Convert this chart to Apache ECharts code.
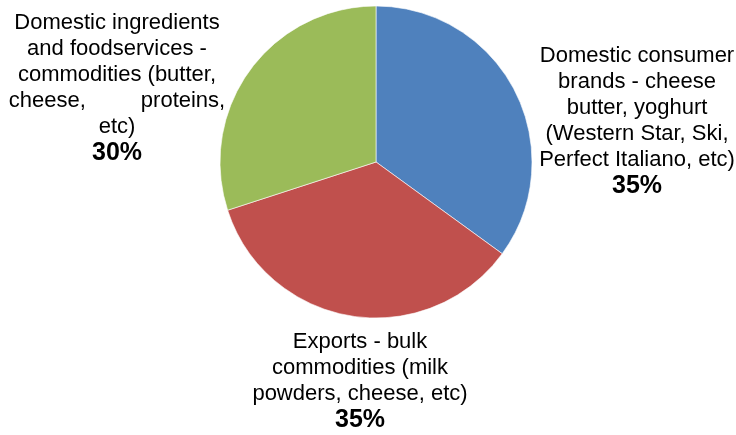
<!DOCTYPE html>
<html>
<head>
<meta charset="utf-8">
<script src="https://cdn.jsdelivr.net/npm/echarts@6/dist/echarts.min.js"></script>
<style>
html,body{margin:0;padding:0;background:#fff;}
#chart{width:736px;height:435px;}
</style>
</head>
<body>
<div id="chart"></div>
<script>
var categories = [
  "Domestic consumer\nbrands - cheese\nbutter, yoghurt\n(Western Star, Ski,\nPerfect Italiano, etc)",
  "Exports - bulk\ncommodities (milk\npowders, cheese, etc)",
  "Domestic ingredients\nand foodservices -\ncommodities (butter,\ncheese,         proteins,\netc)"
];
var values = [35, 35, 30];
var colors = ["#4F81BD", "#C0504D", "#9BBB59"];
var labelPos = [[637, 121], [360, 381], [117, 88]];

var chart = echarts.init(document.getElementById('chart'), null, {renderer: 'canvas'});
chart.setOption({
  animation: false,
  backgroundColor: '#ffffff',
  series: [{
    type: 'pie',
    center: [376, 162],
    radius: 156,
    startAngle: 90,
    clockwise: true,
    data: categories.map(function (c, i) {
      return { name: c, value: values[i], itemStyle: { color: colors[i] } };
    }),
    itemStyle: { borderColor: '#ffffff', borderWidth: 0.6 },
    emphasis: { disabled: true },
    labelLine: { show: false },
    label: {
      show: true,
      position: 'inside',
      overflow: 'none',
      formatter: function (p) { return '{n|' + p.name.split('\n').join('}\n{n|') + '}\n{b|' + p.value + '%}'; },
      align: 'center',
      rich: {
        n: { fontFamily: 'Liberation Sans, Arial, sans-serif', fontSize: 22, lineHeight: 26, color: '#000', align: 'center' },
        b: { fontFamily: 'Liberation Sans, Arial, sans-serif', fontSize: 25, fontWeight: 'bold', lineHeight: 26, color: '#000', align: 'center' }
      }
    },
    labelLayout: function (params) {
      var p = labelPos[params.dataIndex];
      return { x: p[0], y: p[1], align: 'center', verticalAlign: 'middle', hideOverlap: false };
    }
  }]
});
</script>
</body>
</html>
